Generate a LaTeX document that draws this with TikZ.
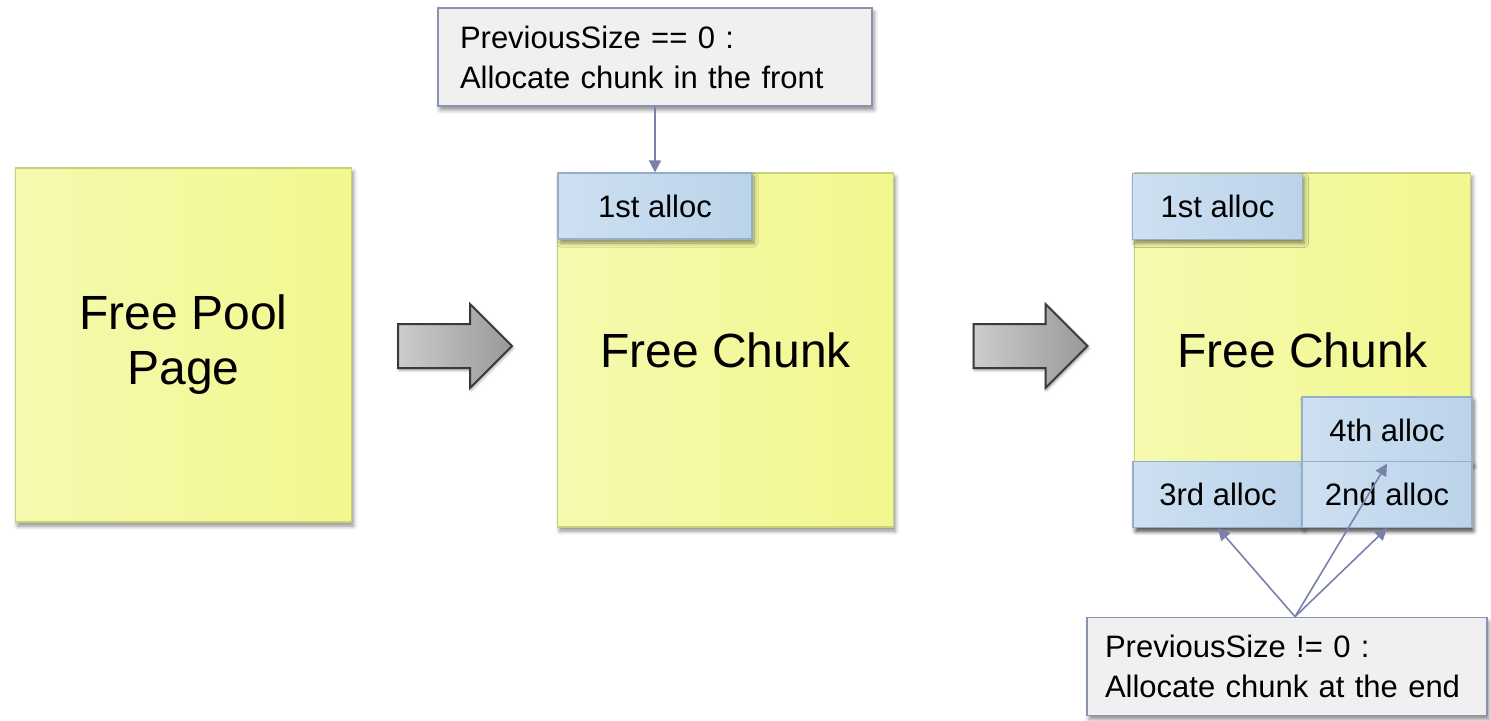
\documentclass[tikz,border=0pt]{standalone}
\usepackage{fontspec}
\setmainfont{Liberation Sans}
\usetikzlibrary{shapes.arrows,shadows.blur,arrows.meta}

\definecolor{pagefill}{HTML}{F2F78F}
\definecolor{pagelight}{HTML}{F5F9AE}
\definecolor{pageline}{HTML}{C9D07A}
\definecolor{allocfill}{HTML}{BBD3EA}
\definecolor{alloclight}{HTML}{CEE0F1}
\definecolor{allocline}{HTML}{97AEC8}
\definecolor{notefill}{HTML}{F0F0F0}
\definecolor{noteline}{HTML}{8A92B4}
\definecolor{linkcol}{HTML}{7A81A8}
\definecolor{arrowline}{HTML}{3A3A3A}

\begin{document}
\begin{tikzpicture}[x=0.5pt,y=-0.5pt,
		softshadow/.style={blur shadow={shadow xshift=1pt,shadow yshift=-2pt,shadow blur radius=2pt,shadow opacity=45}},
		page/.style={draw=pageline,line width=0.6pt,left color=pagelight,right color=pagefill,
			minimum width=168pt,minimum height=177pt,inner sep=0pt,align=center,
			font=\fontsize{24}{27.5}\selectfont,softshadow},
		alloc/.style={draw=allocline,line width=0.6pt,left color=alloclight,right color=allocfill,
			minimum width=85pt,minimum height=33pt,inner sep=0pt,
			font=\fontsize{15.5}{18}\selectfont,softshadow},
		note/.style={draw=noteline,line width=0.8pt,fill=notefill,align=left,
			minimum height=49pt,inner ysep=0pt,
			font=\fontsize{15.5}{20}\selectfont,softshadow},
		step arrow/.style={shape=single arrow,draw=arrowline,line width=1pt,
			left color=gray!40,right color=gray!80,
			minimum height=57pt,text height=0pt,text depth=0pt,inner xsep=0pt,inner ysep=10.5pt,
			single arrow head extend=10pt,blur shadow={shadow xshift=0.5pt,shadow yshift=-1pt,shadow blur radius=1.5pt,shadow opacity=40}},
		link/.style={draw=linkcol,line width=0.8pt,-{Triangle[length=6pt,width=6pt]}}]

	\useasboundingbox (0,0) rectangle (1491,721);

	% the three stages of the pool page
	\node[page] (pool) at (183.5,345) {Free Pool\\Page};
	\node[page] (chunkA) at (725.5,350) {Free Chunk};
	\node[page] (chunkB) at (1302.5,350) {Free Chunk};

	% allocations carved out of the chunk
	\node[alloc,minimum width=97pt] (allocA) at (655,206) {1st alloc};
	\node[alloc] (allocB) at (1217.5,206.5) {1st alloc};
	\node[alloc] (allocD) at (1387,430) {4th alloc};
	\node[alloc] (allocC) at (1218,494.5) {3rd alloc};
	\node[alloc] (allocE) at (1387,494.5) {2nd alloc};

	% big arrows between the stages
	\node[step arrow] (stepA) at (444,346) {};
	\node[step arrow] (stepB) at (1019.5,346) {};

	% notes
	\node[note,text width=195pt,inner xsep=11pt] (noteA) at (655,57)
		{PreviousSize == 0 :\\Allocate chunk in the front};
	\node[note,text width=182pt,inner xsep=9pt] (noteB) at (1287,666.5)
		{PreviousSize != 0 :\\Allocate chunk at the end};

	\draw[link] (noteA) -- (allocA);
	\coordinate (fork) at ([xshift=4pt]noteB.north);
	\draw[link] (fork) -- (allocC.south);
	\draw[link] (fork) -- (allocE.south);
	\draw[link] (fork) -- (allocD.south);
\end{tikzpicture}
\end{document}
